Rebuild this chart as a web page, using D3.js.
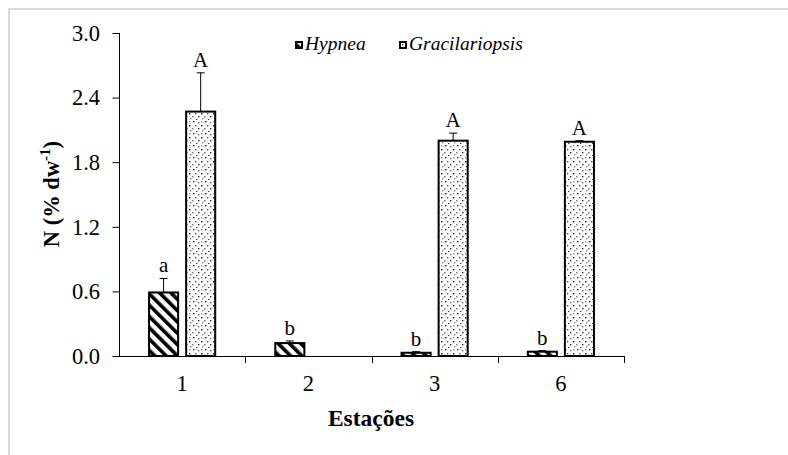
<!DOCTYPE html>
<html>
<head>
<meta charset="utf-8">
<script src="https://cdn.jsdelivr.net/npm/d3@7"></script>
<style>
  html, body { margin: 0; padding: 0; background: #fff; }
  svg { display: block; }
  svg text { font-family: "Times New Roman", "Liberation Serif", Tinos, "DejaVu Serif", serif; fill: #000; }
</style>
</head>
<body>
<svg id="chart" width="788" height="455"></svg>
<script>
// Nitrogen content (% dry weight) per station
const categories = ["1", "2", "3", "6"];
const seriesNames = ["Hypnea", "Gracilariopsis"];
const hypnea = [0.59, 0.12, 0.03, 0.04];
const hypneaErr = [0.13, 0.02, 0.01, 0.01];
const hypneaLetters = ["a", "b", "b", "b"];
const gracilariopsis = [2.27, null, 2.00, 1.99];
const gracilariopsisErr = [0.36, null, 0.07, 0.01];
const gracilariopsisLetters = ["A", "", "A", "A"];
const yTicks = [0, 0.6, 1.2, 1.8, 2.4, 3.0];

const FONT = "'Times New Roman', 'Liberation Serif', Tinos, 'DejaVu Serif', serif";
const svg = d3.select("#chart");

// light frame
svg.append("line").attr("x1", 8).attr("x2", 788).attr("y1", 9).attr("y2", 9)
  .attr("stroke", "#d9d9d9").attr("stroke-width", 2);
svg.append("line").attr("x1", 9).attr("x2", 9).attr("y1", 8).attr("y2", 455)
  .attr("stroke", "#d9d9d9").attr("stroke-width", 2);

const defs = svg.append("defs");
// diagonal hatch
const hatch = defs.append("pattern").attr("id", "hatch")
  .attr("patternUnits", "userSpaceOnUse").attr("width", 8).attr("height", 8)
  .attr("patternTransform", "rotate(-45)");
hatch.append("rect").attr("width", 8).attr("height", 8).attr("fill", "#fff");
hatch.append("rect").attr("x", 0).attr("y", 0).attr("width", 3.6).attr("height", 8).attr("fill", "#000");

// stipple
const dots = defs.append("pattern").attr("id", "dots")
  .attr("patternUnits", "userSpaceOnUse").attr("width", 12).attr("height", 12);
dots.append("rect").attr("width", 12).attr("height", 12).attr("fill", "#fff");
[[1, 1, "#222"], [6, 2, "#777"], [3, 5, "#555"], [9, 5, "#111"], [0, 8, "#777"],
 [6, 8, "#333"], [10, 10, "#888"], [4, 11, "#444"], [9, 1, "#999"]].forEach(([x, y, c]) => {
  dots.append("rect").attr("x", x).attr("y", y).attr("width", 1.4).attr("height", 1.4).attr("fill", c);
});

const x = d3.scaleBand().domain(categories).range([119, 624]).padding(0);
const xs = d3.scaleBand().domain(seriesNames).range([0, x.bandwidth()])
  .paddingInner(0.216).paddingOuter(0.81);
const y = d3.scaleLinear().domain([0, 3]).range([356, 33]);

// axes
const yAxis = d3.axisLeft(y).tickValues(yTicks).tickFormat(d3.format(".1f")).tickSize(7).tickPadding(12);
const gy = svg.append("g").attr("transform", "translate(119,0)").call(yAxis);
gy.attr("font-family", FONT);
gy.select(".domain").attr("d", "M0.5," + y(3) + "V" + (y(0) + 0.5)).attr("stroke", "#000");
gy.selectAll(".tick line").attr("stroke", "#000").attr("x2", -7).attr("transform", "translate(0.5,0)");
gy.selectAll("text").attr("font-size", 22.5).attr("font-family", FONT);

const gx = svg.append("g").attr("transform", "translate(0," + y(0) + ")");
gx.append("line").attr("x1", 119).attr("x2", 624).attr("y1", 0.5).attr("y2", 0.5).attr("stroke", "#000");
// ticks between categories
categories.forEach(c => {
  const xe = x(c) + x.bandwidth();
  gx.append("line").attr("x1", Math.round(xe) + 0.5).attr("x2", Math.round(xe) + 0.5)
    .attr("y1", 0).attr("y2", 7).attr("stroke", "#000");
});
gx.selectAll("text.cat").data(categories).join("text").attr("class", "cat")
  .attr("x", d => x(d) + x.bandwidth() / 2).attr("y", 35)
  .attr("text-anchor", "middle").attr("font-size", 22.5).attr("font-family", FONT).text(d => d);

// axis titles
svg.append("text").attr("x", 371).attr("y", 426).attr("text-anchor", "middle")
  .attr("font-size", 23.5).attr("font-weight", "bold").attr("font-family", FONT).text("Estações");
const yt = svg.append("text").attr("transform", "translate(59,194) rotate(-90)")
  .attr("text-anchor", "middle").attr("font-size", 22.5).attr("font-weight", "bold").attr("font-family", FONT);
yt.append("tspan").text("N (% dw");
yt.append("tspan").attr("font-size", 15).attr("dy", -9).text("-1");
yt.append("tspan").attr("dy", 9).text(")");

// bars
const series = [
  { name: "Hypnea", values: hypnea, err: hypneaErr, letters: hypneaLetters, fill: "url(#hatch)" },
  { name: "Gracilariopsis", values: gracilariopsis, err: gracilariopsisErr, letters: gracilariopsisLetters, fill: "url(#dots)" }
];

series.forEach(s => {
  const data = categories.map((c, i) => ({ c, v: s.values[i], e: s.err[i], l: s.letters[i] }))
    .filter(d => d.v != null);
  const g = svg.append("g");
  g.selectAll("rect").data(data).join("rect")
    .attr("x", d => x(d.c) + xs(s.name))
    .attr("y", d => y(d.v))
    .attr("width", xs.bandwidth())
    .attr("height", d => y(0) - y(d.v))
    .attr("fill", s.fill).attr("stroke", "#000").attr("stroke-width", 2);
  // error bars (upper)
  g.selectAll("line.err").data(data).join("line").attr("class", "err")
    .attr("x1", d => x(d.c) + xs(s.name) + xs.bandwidth() / 2)
    .attr("x2", d => x(d.c) + xs(s.name) + xs.bandwidth() / 2)
    .attr("y1", d => y(d.v)).attr("y2", d => y(d.v + d.e))
    .attr("stroke", "#000").attr("stroke-width", 1);
  g.selectAll("line.cap").data(data).join("line").attr("class", "cap")
    .attr("x1", d => x(d.c) + xs(s.name) + xs.bandwidth() / 2 - 4)
    .attr("x2", d => x(d.c) + xs(s.name) + xs.bandwidth() / 2 + 4)
    .attr("y1", d => y(d.v + d.e)).attr("y2", d => y(d.v + d.e))
    .attr("stroke", "#000").attr("stroke-width", 1);
  g.selectAll("text").data(data).join("text")
    .attr("x", d => x(d.c) + xs(s.name) + xs.bandwidth() / 2)
    .attr("y", d => y(d.v + d.e) - 6)
    .attr("text-anchor", "middle").attr("font-size", 21).attr("font-family", FONT).text(d => d.l);
});

// legend
const legend = [
  { name: "Hypnea", x: 295, fill: "url(#hatch)" },
  { name: "Gracilariopsis", x: 399, fill: "url(#dots)" }
];
legend.forEach(l => {
  svg.append("rect").attr("x", l.x + 1).attr("y", 42).attr("width", 6).attr("height", 6)
    .attr("fill", l.fill).attr("stroke", "#000").attr("stroke-width", 2);
  svg.append("text").attr("x", l.x + 10).attr("y", 50).attr("font-size", 19.5)
    .attr("font-style", "italic").attr("font-family", FONT).text(l.name);
});
</script>
</body>
</html>
